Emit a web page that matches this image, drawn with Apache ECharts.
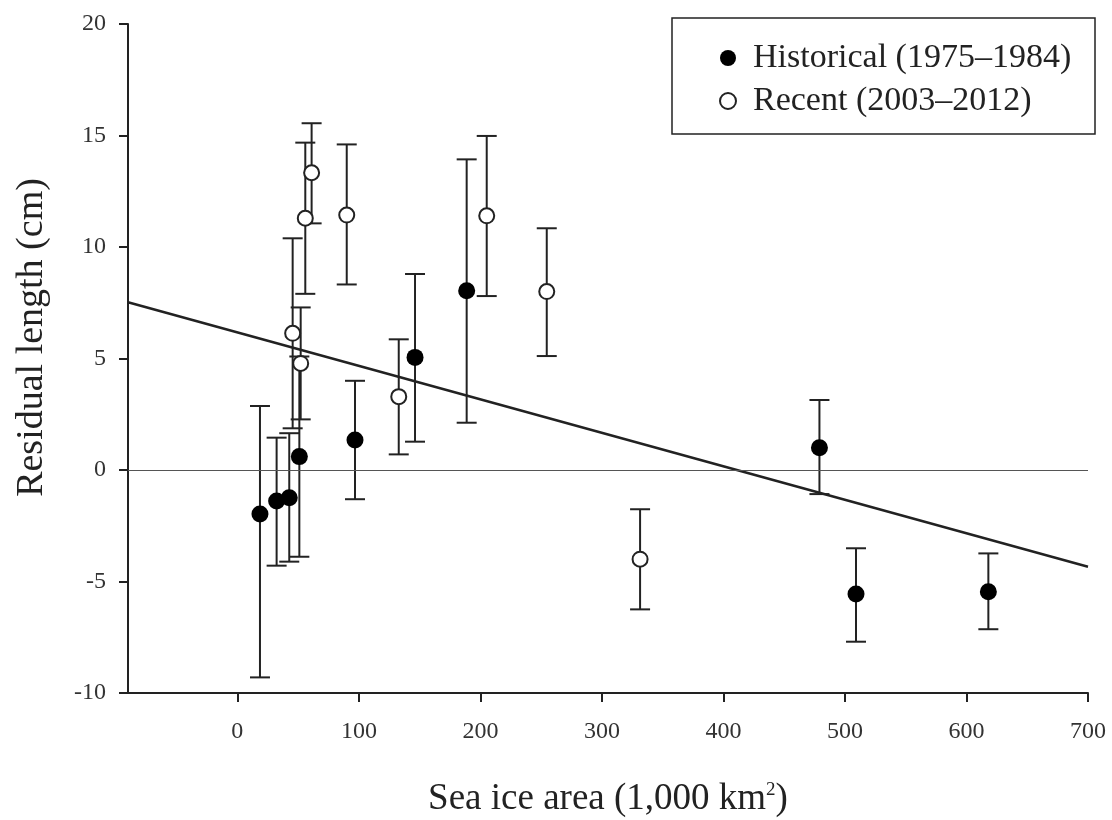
<!DOCTYPE html>
<html>
<head>
<meta charset="utf-8">
<title>Residual length vs sea ice area</title>
<script src="https://cdn.jsdelivr.net/npm/echarts@6/dist/echarts.min.js"></script>
<style>
  html, body { margin: 0; padding: 0; background: #fff; }
  #chart { width: 1112px; height: 820px; }
</style>
</head>
<body>
<div id="chart"></div>
<script>
  // sea ice area (1,000 km2), residual length (cm), error bar ends
  var histX = [18.6, 32.3, 42.7, 51, 96.8, 146.2, 188.7, 479, 509.1, 618];
  var histY = [-1.97, -1.39, -1.24, 0.6, 1.35, 5.05, 8.04, 1.0, -5.56, -5.46];
  var histLow = [-9.3, -4.29, -4.11, -3.89, -1.31, 1.27, 2.12, -1.08, -7.7, -7.14];
  var histHigh = [2.87, 1.45, 1.65, 5.09, 4.0, 8.79, 13.93, 3.14, -3.51, -3.74];

  var recX = [45.5, 52.1, 55.9, 61.1, 90, 132.8, 205.2, 254.6, 331.4];
  var recY = [6.13, 4.78, 11.29, 13.33, 11.43, 3.29, 11.4, 8.0, -4.0];
  var recLow = [1.87, 2.27, 7.9, 11.06, 8.32, 0.7, 7.8, 5.11, -6.25];
  var recHigh = [10.39, 7.29, 14.68, 15.55, 14.6, 5.86, 14.98, 10.84, -1.76];

  // fitted line end points
  var fitX = [-90, 700];
  var fitY = [7.52, -4.34];

  var xTicks = [0, 100, 200, 300, 400, 500, 600, 700];

  var chart = echarts.init(document.getElementById('chart'));
  var serif = '"Liberation Serif", "DejaVu Serif", serif';
  var ink = '#222';

  function pts(xs, ys) {
    return xs.map(function (x, i) { return [x, ys[i]]; });
  }
  function bars(xs, lows, highs) {
    return xs.map(function (x, i) { return [x, lows[i], highs[i]]; });
  }

  //error bar drawing
  function renderBar(params, api) {
    var lo = api.coord([api.value(0), api.value(1)]);
    var hi = api.coord([api.value(0), api.value(2)]);
    var cap = 10;
    var style = { stroke: ink, lineWidth: 2 };
    return {
      type: 'group',
      children: [
        { type: 'line', shape: { x1: lo[0], y1: lo[1], x2: hi[0], y2: hi[1] }, style: style },
        { type: 'line', shape: { x1: lo[0] - cap, y1: lo[1], x2: lo[0] + cap, y2: lo[1] }, style: style },
        { type: 'line', shape: { x1: hi[0] - cap, y1: hi[1], x2: hi[0] + cap, y2: hi[1] }, style: style }
      ]
    };
  }

  var option = {
    animation: false,
    backgroundColor: '#fff',
    grid: { left: 128, right: 24, top: 24, bottom: 127, outerBoundsMode: 'none' },
    legend: {
      left: 714, top: 36,
      orient: 'vertical',
      itemWidth: 16, itemHeight: 16, itemGap: 9,
      data: [
        { name: 'Historical (1975\u20131984)', icon: 'circle' },
        { name: 'Recent (2003\u20132012)', icon: 'circle' }
      ],
      textStyle: { fontFamily: serif, fontSize: 34, lineHeight: 30, color: ink, padding: [0, 0, 0, 12] }
    },
    graphic: [{
      type: 'rect',
      shape: { x: 672, y: 18, width: 423, height: 116 },
      style: { fill: 'none', stroke: ink, lineWidth: 1.5 },
      z: 10
    }],
    xAxis: {
      type: 'value',
      min: -90, max: 700,
      name: 'Sea ice area (1,000 km{sup|2})',
      nameLocation: 'middle',
      nameGap: 88,
      nameTextStyle: {
        fontFamily: serif, fontSize: 37, color: ink,
        rich: { sup: { fontFamily: serif, fontSize: 19, color: ink, verticalAlign: 'top', padding: [0, 0, 18, 0] } }
      },
      axisLine: { onZero: false, lineStyle: { color: ink, width: 2 } },
      axisTick: { length: 9, customValues: xTicks, lineStyle: { color: ink, width: 2 } },
      axisLabel: { customValues: xTicks, margin: 27, fontFamily: serif, fontSize: 24, color: '#333' },
      splitLine: { show: false }
    },
    yAxis: {
      type: 'value',
      min: -10, max: 20, interval: 5,
      name: 'Residual length (cm)',
      nameLocation: 'middle',
      nameGap: 77,
      nameTextStyle: { fontFamily: serif, fontSize: 38, color: ink, padding: [0, 0, 0, 42] },
      axisLine: { onZero: false, lineStyle: { color: ink, width: 2 } },
      axisTick: { length: 9, lineStyle: { color: ink, width: 2 } },
      axisLabel: { margin: 22, fontFamily: serif, fontSize: 24, color: '#333' },
      splitLine: { show: false }
    },
    series: [
      {
        name: 'fit',
        type: 'line',
        data: pts(fitX, fitY),
        symbol: 'none',
        silent: true,
        lineStyle: { color: ink, width: 2.5 },
        markLine: {
          silent: true,
          symbol: 'none',
          label: { show: false },
          lineStyle: { color: '#555', width: 1.2, type: 'solid' },
          data: [{ yAxis: 0 }]
        },
        z: 1
      },
      {
        type: 'custom',
        renderItem: renderBar,
        data: bars(histX, histLow, histHigh),
        z: 2
      },
      {
        type: 'custom',
        renderItem: renderBar,
        data: bars(recX, recLow, recHigh),
        z: 2
      },
      {
        name: 'Historical (1975\u20131984)',
        type: 'scatter',
        data: pts(histX, histY),
        symbol: 'circle',
        symbolSize: 17,
        itemStyle: { color: '#000', opacity: 1 },
        z: 3
      },
      {
        name: 'Recent (2003\u20132012)',
        type: 'scatter',
        data: pts(recX, recY),
        symbol: 'circle',
        symbolSize: 15,
        itemStyle: { color: '#fff', borderColor: ink, borderWidth: 2, opacity: 1 },
        z: 3
      }
    ]
  };

  chart.setOption(option);
</script>
</body>
</html>
